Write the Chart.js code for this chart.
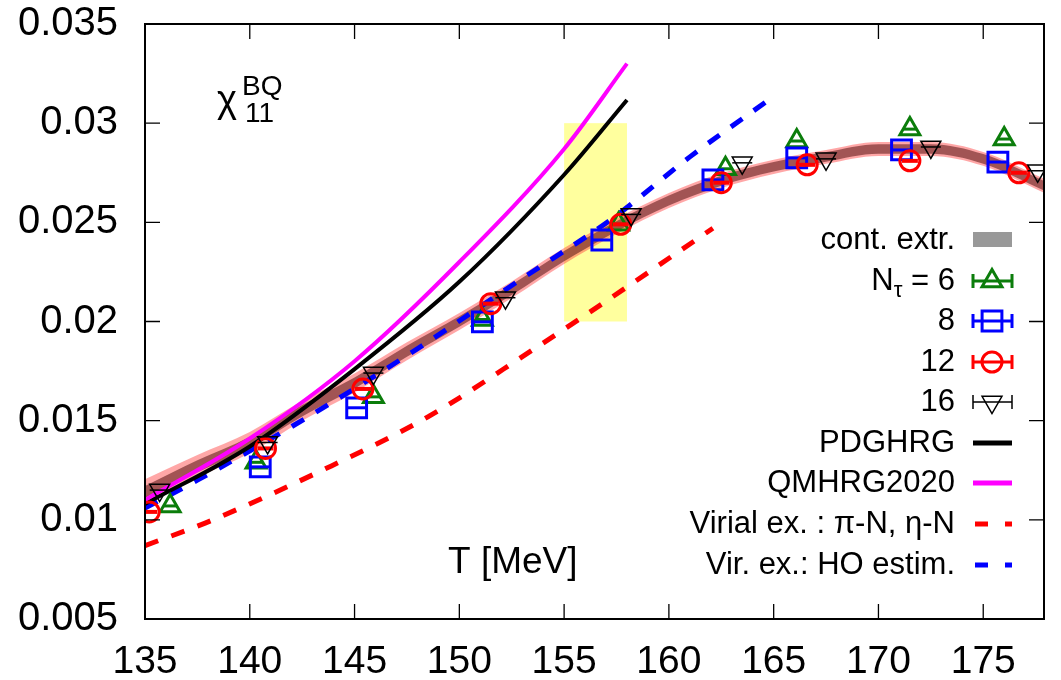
<!DOCTYPE html>
<html>
<head>
<meta charset="utf-8">
<script src="https://cdn.jsdelivr.net/npm/chart.js@4.4.0/dist/chart.umd.min.js"></script>
<style>
  html, body { margin: 0; padding: 0; background: #fff; }
</style>
</head>
<body>
<canvas id="chi" width="1061" height="680"></canvas>
<script>
// --- data ---
const xTickVals = [135, 140, 145, 150, 155, 160, 165, 170, 175];
const xTickLabels = ["135", "140", "145", "150", "155", "160", "165", "170", "175"];
const yTickVals = [0.005, 0.01, 0.015, 0.02, 0.025, 0.03, 0.035];
const yTickLabels = ["0.005", "0.01", "0.015", "0.02", "0.025", "0.03", "0.035"];

// continuum extrapolation band
const bandT = [135, 137.5, 140, 142.5, 145, 147.5, 150, 152.5, 155, 157.5, 160, 162.5, 165, 167.5, 170, 172.5, 175, 178];
const bandInnerHi = [0.0117, 0.0130, 0.01419, 0.01579, 0.01718, 0.01878, 0.02027, 0.02187, 0.02356, 0.02506, 0.02635, 0.02735, 0.02804, 0.02854, 0.02894, 0.02894, 0.02844, 0.02704];
const bandInnerLo = [0.0111, 0.0124, 0.01361, 0.01521, 0.01662, 0.01822, 0.01973, 0.02133, 0.02304, 0.02454, 0.02585, 0.02685, 0.02756, 0.02806, 0.02846, 0.02846, 0.02796, 0.02656];
const bandOuterHi = [0.01205, 0.01327, 0.01443, 0.016, 0.01738, 0.01895, 0.02043, 0.02202, 0.0237, 0.02519, 0.02648, 0.02747, 0.02816, 0.02865, 0.02905, 0.02905, 0.02855, 0.02716];
const bandOuterLo = [0.01075, 0.01213, 0.01337, 0.015, 0.01642, 0.01805, 0.01957, 0.02118, 0.0229, 0.02441, 0.02572, 0.02673, 0.02744, 0.02795, 0.02835, 0.02835, 0.02785, 0.02644];

// lattice points
const n6T = [136.2, 140.3, 145.9, 151.1, 157.6, 162.7, 166.1, 171.5, 176.0];
const n6Y = [0.0107, 0.0129, 0.0162, 0.0201, 0.0249, 0.0277, 0.0291, 0.0297, 0.0292];
const n8T = [140.5, 145.1, 151.1, 156.8, 162.1, 166.1, 171.1, 175.7];
const n8Y = [0.01267, 0.01565, 0.01998, 0.02411, 0.02714, 0.02825, 0.02865, 0.02804];
const n12T = [135.2, 140.75, 145.4, 151.5, 157.7, 162.5, 166.6, 171.5, 176.7];
const n12Y = [0.0104, 0.0136, 0.0166, 0.0209, 0.0249, 0.0270, 0.0279, 0.0281, 0.0275];
const n16T = [135.7, 140.85, 145.9, 152.2, 158.2, 163.5, 167.5, 172.5, 177.6];
const n16Y = [0.0115, 0.0139, 0.0174, 0.0212, 0.0254, 0.0280, 0.0282, 0.0288, 0.0276];

// model curves
const pdgT = [135, 140, 145, 150, 155, 158];
const pdgY = [0.0108, 0.0137, 0.0176, 0.0220, 0.0274, 0.03117];
const qmT = [135, 140, 145, 150, 155, 158];
const qmY = [0.0110, 0.0141, 0.0180, 0.0230, 0.0287, 0.0330];
const virT = [135, 137.9, 143.3, 148.5, 153.5, 155.7, 162.1];
const virY = [0.0087, 0.00985, 0.01242, 0.01519, 0.01857, 0.0201, 0.0247];
const hoT = [135, 137.5, 142.7, 147.7, 152.9, 157.4, 161, 164.8];
const hoY = [0.0106, 0.0120, 0.01514, 0.01842, 0.0221, 0.02527, 0.0283, 0.0312];

// yellow box (T range, y range)
const boxT = [155, 158];
const boxY = [0.02, 0.03];

const FONT = "'Liberation Sans', Arial, Helvetica, sans-serif";
const GREEN = "#0b7d0b";

function pts(xs, ys) {
  return xs.map((x, i) => ({ x: x, y: ys[i] }));
}

function markers(xs, ys, style, r, color, bw, rot) {
  return {
    data: pts(xs, ys),
    showLine: false,
    pointStyle: style,
    pointRadius: r,
    pointRotation: rot || 0,
    pointBorderColor: color,
    pointBackgroundColor: "rgba(0,0,0,0)",
    pointBorderWidth: bw,
  };
}

function curve(xs, ys, color, dash) {
  return {
    data: pts(xs, ys),
    showLine: true,
    borderColor: color,
    borderWidth: dash ? 5 : 4,
    borderDash: dash ? [14, 14] : [],
    borderCapStyle: "butt",
    pointRadius: 0,
    fill: false,
    cubicInterpolationMode: "monotone",
  };
}

function band(xs, ys, fill, bg) {
  return {
    data: pts(xs, ys),
    showLine: true,
    borderWidth: 0,
    borderColor: "rgba(0,0,0,0)",
    pointRadius: 0,
    fill: fill,
    backgroundColor: bg,
    cubicInterpolationMode: "monotone",
  };
}

const datasets = [
  Object.assign(band(bandT, bandOuterHi, "+1", "rgba(255,60,60,0.45)"), { order: 20 }),
  Object.assign(band(bandT, bandOuterLo, false, "rgba(0,0,0,0)"), { order: 20 }),
  Object.assign(band(bandT, bandInnerHi, "+1", "rgba(100,30,30,0.6)"), { order: 19 }),
  Object.assign(band(bandT, bandInnerLo, false, "rgba(0,0,0,0)"), { order: 19 }),
  Object.assign(curve(virT, virY, "#ff0000", true), { order: 15 }),
  Object.assign(curve(hoT, hoY, "#0000ff", true), { order: 14 }),
  Object.assign(curve(pdgT, pdgY, "#000000", false), { order: 13 }),
  Object.assign(curve(qmT, qmY, "#ff00ff", false), { order: 12 }),
  Object.assign(markers(n6T, n6Y, "triangle", 11.5, GREEN, 3), { order: 8 }),
  Object.assign(markers(n6T, n6Y, "line", 7, GREEN, 3), { order: 8 }),
  Object.assign(markers(n8T, n8Y, "rect", 14, "#0000ff", 3), { order: 7 }),
  Object.assign(markers(n8T, n8Y, "line", 9, "#0000ff", 3), { order: 7 }),
  Object.assign(markers(n12T, n12Y, "circle", 10, "#ff0000", 3), { order: 6 }),
  Object.assign(markers(n12T, n12Y, "line", 8, "#ff0000", 4), { order: 6 }),
  Object.assign(markers(n16T, n16Y, "triangle", 11.5, "#000000", 1.5, 180), { order: 5 }),
  Object.assign(markers(n16T, n16Y, "line", 10, "#000000", 1.5), { order: 5 }),
];

// --- frame, box, labels, key ---
const decor = {
  id: "decor",
  beforeDatasetsDraw(chart) {
    const { ctx, scales: { x, y } } = chart;
    const x0 = x.getPixelForValue(boxT[0]);
    const x1 = x.getPixelForValue(boxT[1]);
    const y0 = y.getPixelForValue(boxY[1]);
    const y1 = y.getPixelForValue(boxY[0]);
    ctx.save();
    ctx.fillStyle = "rgba(255,255,0,0.38)";
    ctx.fillRect(x0, y0, x1 - x0, y1 - y0);
    ctx.restore();
  },
  afterDraw(chart) {
    const { ctx, chartArea: a, scales: { x, y } } = chart;
    ctx.save();

    // border + inward ticks
    ctx.strokeStyle = "#000";
    ctx.lineWidth = 2;
    ctx.strokeRect(a.left, a.top, a.right - a.left, a.bottom - a.top);
    ctx.lineWidth = 1.3;
    ctx.beginPath();
    xTickVals.forEach((v) => {
      const px = x.getPixelForValue(v);
      ctx.moveTo(px, a.bottom); ctx.lineTo(px, a.bottom - 15);
      ctx.moveTo(px, a.top); ctx.lineTo(px, a.top + 15);
    });
    yTickVals.forEach((v) => {
      const py = y.getPixelForValue(v);
      ctx.moveTo(a.left, py); ctx.lineTo(a.left + 15, py);
      ctx.moveTo(a.right, py); ctx.lineTo(a.right - 15, py);
    });
    ctx.stroke();

    // observable label
    ctx.fillStyle = "#000";
    ctx.textBaseline = "alphabetic";
    ctx.textAlign = "left";
    ctx.font = "38px " + FONT;
    ctx.fillText("χ", 217, 112);
    ctx.font = "28px " + FONT;
    ctx.fillText("11", 245, 122);
    ctx.fillText("BQ", 242, 95);

    // axis title inside the frame
    ctx.font = "37px " + FONT;
    ctx.fillText("T [MeV]", 448, 573);

    // key
    const rowY = [240, 281, 321, 362, 402, 443, 483, 524, 565];
    const tx = 955, sx0 = 973, sx1 = 1012, sxm = 992;
    ctx.font = "31px " + FONT;
    ctx.textAlign = "right";
    ctx.textBaseline = "middle";
    const plain = ["cont. extr.", null, "8", "12", "16", "PDGHRG", "QMHRG2020", "Virial ex. : π-N, η-N", "Vir. ex.: HO estim."];
    plain.forEach((t, i) => { if (t) ctx.fillText(t, tx, rowY[i]); });
    // N_tau = 6
    const tail = " = 6";
    const wTail = ctx.measureText(tail).width;
    ctx.fillText(tail, tx, rowY[1]);
    ctx.font = "22px " + FONT;
    const wTau = ctx.measureText("τ").width;
    ctx.fillText("τ", tx - wTail, rowY[1] + 10);
    ctx.font = "31px " + FONT;
    ctx.fillText("N", tx - wTail - wTau, rowY[1]);

    // key samples
    ctx.fillStyle = "#999999";
    ctx.fillRect(sx0, rowY[0] - 8, sx1 - sx0, 15);

    const sets = [
      [GREEN, "triangle", 11.5, 0, 3],
      ["#0000ff", "rect", 14, 0, 3],
      ["#ff0000", "circle", 10, 0, 3],
      ["#000000", "triangle", 11.5, 180, 1.5],
    ];
    sets.forEach((s, i) => {
      const yy = rowY[i + 1];
      ctx.strokeStyle = s[0];
      ctx.lineWidth = s[4];
      ctx.beginPath();
      ctx.moveTo(sx0, yy); ctx.lineTo(sx1, yy);
      ctx.moveTo(sx0, yy - 7); ctx.lineTo(sx0, yy + 7);
      ctx.moveTo(sx1, yy - 7); ctx.lineTo(sx1, yy + 7);
      ctx.stroke();
      ctx.fillStyle = "rgba(0,0,0,0)";
      Chart.helpers.drawPoint(ctx, { pointStyle: s[1], radius: s[2], rotation: s[3], borderWidth: s[4] }, sxm, yy);
    });

    const lines = [["#000000", []], ["#ff00ff", []], ["#ff0000", [13, 17]], ["#0000ff", [13, 17]]];
    lines.forEach((l, i) => {
      const yy = rowY[i + 5];
      ctx.strokeStyle = l[0];
      ctx.lineWidth = 5;
      ctx.setLineDash(l[1]);
      ctx.beginPath();
      ctx.moveTo(l[1].length ? 975 : sx0, yy);
      ctx.lineTo(sx1, yy);
      ctx.stroke();
    });
    ctx.setLineDash([]);
    ctx.restore();
  },
};

new Chart(document.getElementById("chi"), {
  type: "scatter",
  data: { datasets: datasets },
  options: {
    responsive: false,
    animation: false,
    events: [],
    layout: { padding: { top: 24, right: 2, left: 0, bottom: 0 } },
    plugins: { legend: { display: false }, tooltip: { enabled: false } },
    scales: {
      x: {
        type: "linear",
        min: 135,
        max: 177.9,
        afterBuildTicks: (s) => { s.ticks = xTickVals.map((v) => ({ value: v })); },
        afterFit: (s) => {
          s.height = 61;
          s.paddingLeft = 0;
          s.paddingRight = 0;
        },
        grid: { display: false },
        border: { display: false },
        ticks: {
          color: "#000",
          font: { family: FONT, size: 39 },
          padding: 12,
          maxRotation: 0,
          autoSkip: false,
          callback: (v, i) => xTickLabels[i],
        },
      },
      y: {
        type: "linear",
        min: 0.005,
        max: 0.035,
        afterBuildTicks: (s) => { s.ticks = yTickVals.map((v) => ({ value: v })); },
        afterFit: (s) => {
          s.width = 145;
          s.paddingTop = 0;
          s.paddingBottom = 0;
        },
        grid: { display: false },
        border: { display: false },
        ticks: {
          color: "#000",
          font: { family: FONT, size: 40 },
          padding: 19,
          autoSkip: false,
          callback: (v, i) => yTickLabels[i],
        },
      },
    },
  },
  plugins: [decor],
});
</script>
</body>
</html>
